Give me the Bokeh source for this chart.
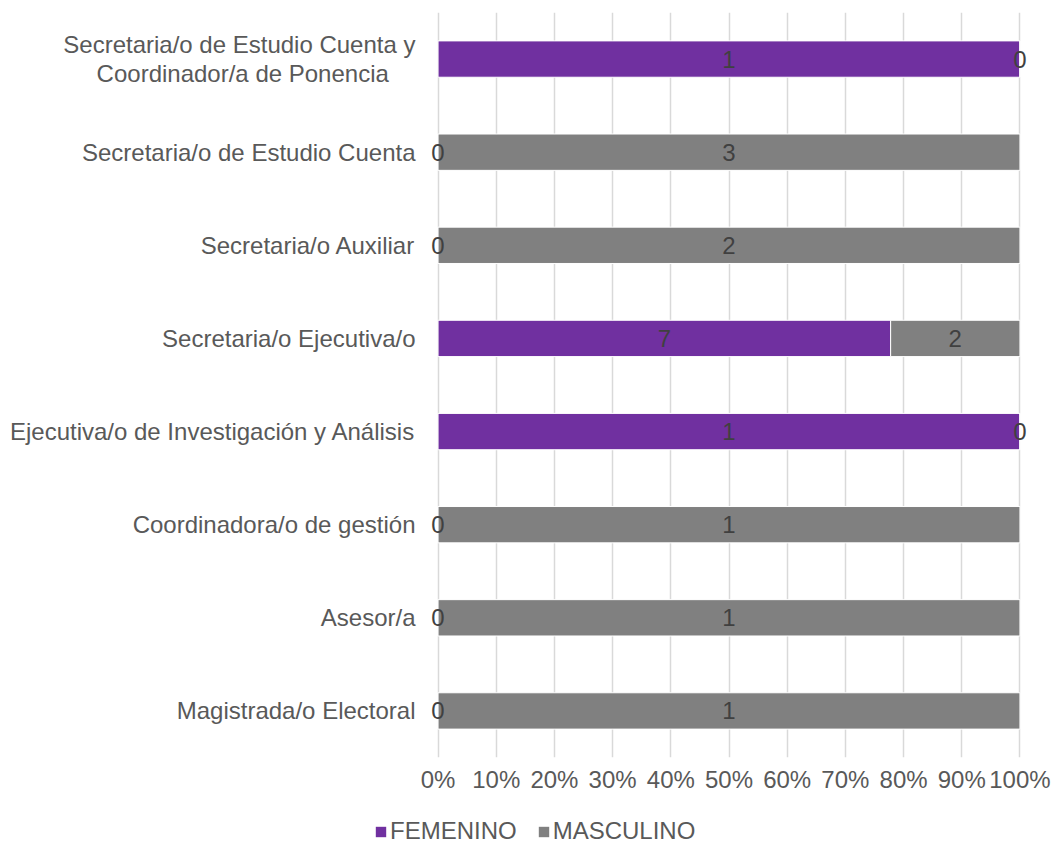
from bokeh.plotting import figure
from bokeh.layouts import column
from bokeh.models import (ColumnDataSource, FixedTicker, NumeralTickFormatter,
                          Range1d, Legend, LegendItem, LabelSet)
from bokeh.core.properties import value
from bokeh.embed import file_html
from bokeh.resources import INLINE

categories = [
    "Magistrada/o Electoral",
    "Asesor/a",
    "Coordinadora/o de gestión",
    "Ejecutiva/o de Investigación y Análisis",
    "Secretaria/o Ejecutiva/o",
    "Secretaria/o Auxiliar",
    "Secretaria/o de Estudio Cuenta",
    "Secretaria/o de Estudio Cuenta y\nCoordinador/a de Ponencia\u00a0\u00a0\u00a0\u00a0",
]
femenino = [0, 0, 0, 1, 7, 0, 0, 1]
masculino = [1, 1, 1, 0, 2, 2, 3, 0]
series_names = ["FEMENINO", "MASCULINO"]
x_ticks = [0, 0.1, 0.2, 0.3, 0.4, 0.5, 0.6, 0.7, 0.8, 0.9, 1.0]

PURPLE = "#7030A0"
GRAY = "#808080"
FONT = "Liberation Sans"

n = len(categories)
ypos = list(range(n))
tot = [f + m for f, m in zip(femenino, masculino)]
fem_p = [f / t for f, t in zip(femenino, tot)]
masc_p = [m / t for m, t in zip(masculino, tot)]
ones = [1.0] * n

src = ColumnDataSource(dict(
    y=ypos, fem_p=fem_p, ones=ones,
    fem_c=[p / 2 for p in fem_p],
    masc_c=[fp + mp / 2 for fp, mp in zip(fem_p, masc_p)],
    fem_t=[str(v) for v in femenino],
    masc_t=[str(v) for v in masculino],
))

p = figure(width=1054, height=807, output_backend="svg",
           toolbar_location=None,
           x_range=Range1d(-0.025, 1.025), y_range=Range1d(-0.5, n - 0.5),
           min_border_left=423, min_border_right=20, min_border_top=12,
           min_border_bottom=50)
p.outline_line_color = None
p.background_fill_color = "white"
p.border_fill_color = "white"

p.ygrid.grid_line_color = None
p.xgrid.ticker = FixedTicker(ticks=x_ticks)
p.xgrid.grid_line_color = "#D9D9D9"
p.xgrid.grid_line_width = 1.5

r_f = p.hbar(y="y", left=0, right="fem_p", height=0.39, source=src,
             fill_color=PURPLE, line_color="white", line_width=1)
r_m = p.hbar(y="y", left="fem_p", right="ones", height=0.39, source=src,
             fill_color=GRAY, line_color="white", line_width=1)

for xc, tc in (("fem_c", "fem_t"), ("masc_c", "masc_t")):
    p.add_layout(LabelSet(x=xc, y="y", text=tc, source=src, text_align="center",
                          text_baseline="middle", text_font=value(FONT),
                          text_font_size=value("24px"), text_color="#404040"))

xa = p.xaxis[0]
xa.ticker = FixedTicker(ticks=x_ticks)
xa.formatter = NumeralTickFormatter(format="0%")
xa.axis_line_color = None
xa.major_tick_line_color = None
xa.minor_tick_line_color = None
xa.major_tick_out = 0
xa.major_label_standoff = 8
xa.major_label_text_font = FONT
xa.major_label_text_font_size = "24px"
xa.major_label_text_color = "#595959"

ya = p.yaxis[0]
ya.ticker = FixedTicker(ticks=ypos)
ya.major_label_overrides = {i: c for i, c in zip(ypos, categories)}
ya.axis_line_color = None
ya.major_tick_line_color = None
ya.minor_tick_line_color = None
ya.major_tick_out = 0
ya.major_label_standoff = 8
ya.major_label_text_font = FONT
ya.major_label_text_font_size = "24px"
ya.major_label_text_color = "#595959"
ya.major_label_text_line_height = 1.05

# legend strip below the chart (same series, drawn out of view)
lf = figure(width=1054, height=38, output_backend="svg", toolbar_location=None,
            x_range=Range1d(0, 1), y_range=Range1d(100, 101), min_border=0)
lf.frame_align = False
lf.axis.visible = False
lf.grid.visible = False
lf.outline_line_color = None
lr_f = lf.hbar(y="y", left=0, right="fem_p", height=0.39, source=src,
               fill_color=PURPLE, line_color=None)
lr_m = lf.hbar(y="y", left="fem_p", right="ones", height=0.39, source=src,
               fill_color=GRAY, line_color=None)
legend = Legend(items=[LegendItem(label=series_names[0], renderers=[lr_f]),
                       LegendItem(label=series_names[1], renderers=[lr_m])],
                orientation="horizontal", location=(374, 0),
                glyph_width=13, glyph_height=13, label_standoff=3, spacing=20,
                padding=0, margin=0, border_line_color=None,
                background_fill_alpha=0,
                label_text_font=FONT, label_text_font_size="24px",
                label_text_color="#595959", label_height=26)
lf.add_layout(legend, "center")

open("out.html", "w").write(file_html(column(p, lf), INLINE))
